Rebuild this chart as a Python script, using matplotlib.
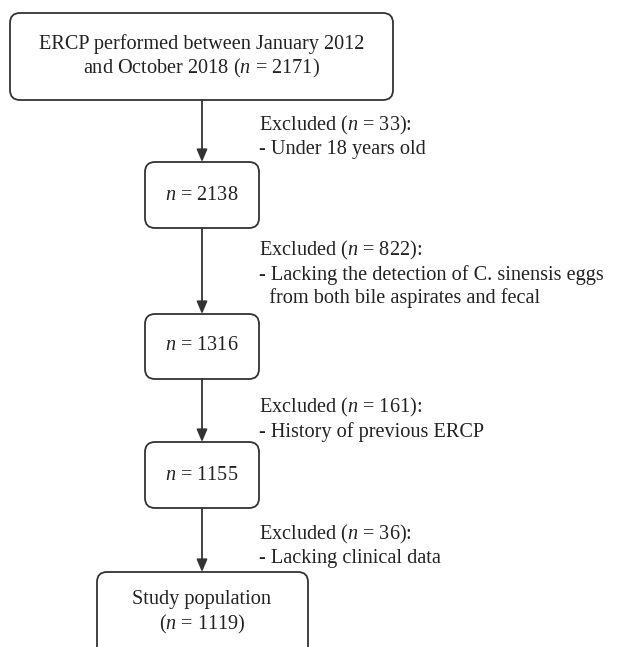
import matplotlib
matplotlib.use("Agg")
import matplotlib.pyplot as plt
from matplotlib.patches import FancyBboxPatch

plt.rcParams['font.family'] = ['Liberation Serif', 'DejaVu Serif']
plt.rcParams['mathtext.fontset'] = 'custom'
plt.rcParams['mathtext.rm'] = 'Liberation Serif'
plt.rcParams['mathtext.it'] = 'Liberation Serif:italic'

# Flow data
box_texts = [
    "ERCP performed between January 2012\nand October 2018 ($n$ = 2171)",
    "$n$ = 2138",
    "$n$ = 1316",
    "$n$ = 1155",
    "Study population\n($n$ = 1119)",
]
excluded_counts = [33, 822, 161, 36]
excluded_reasons = [
    "- Under 18 years old",
    "- Lacking the detection of C. sinensis eggs\n  from both bile aspirates and fecal",
    "- History of previous ERCP",
    "- Lacking clinical data",
]

# Layout (pixel space)
boxes = [(10, 13, 393, 100), (145, 162, 259, 228), (145, 314, 259, 379),
         (145, 442, 259, 508), (97, 572, 308, 660)]
text_y = [57, 195, 346, 475, 613]
excl_y = [123, 248, 405, 532]
cx = 202
col = '#333333'
fs = 14.6

fig = plt.figure(figsize=(6.18, 6.47), dpi=100)
ax = fig.add_axes([0, 0, 1, 1])
ax.set_xlim(0, 618)
ax.set_ylim(647, 0)
ax.axis('off')

for (x0, y0, x1, y1), t, ty in zip(boxes, box_texts, text_y):
    r = 10
    p = FancyBboxPatch((x0 + r, y0 + r), (x1 - x0) - 2 * r, (y1 - y0) - 2 * r,
                       boxstyle=f"round,pad={r},rounding_size={r}",
                       fc='white', ec=col, lw=1.3)
    ax.add_patch(p)
    ax.text(cx if x1 - x0 < 300 else (x0 + x1) / 2, ty, t, ha='center', va='center',
            fontsize=fs, color='#222222', linespacing=1.2)

for i in range(4):
    y_start = boxes[i][3]
    y_end = boxes[i + 1][1]
    ax.annotate('', xy=(cx, y_end), xytext=(cx, y_start),
                arrowprops=dict(arrowstyle='-|>,head_length=0.75,head_width=0.32',
                                color=col, lw=1.3, shrinkA=0, shrinkB=0))
    ax.text(259, excl_y[i] - 9, f"Excluded ($n$ = {excluded_counts[i]}):\n{excluded_reasons[i]}",
            ha='left', va='top', fontsize=fs, color='#222222', linespacing=1.2)

fig.savefig('out.png', dpi=100)
